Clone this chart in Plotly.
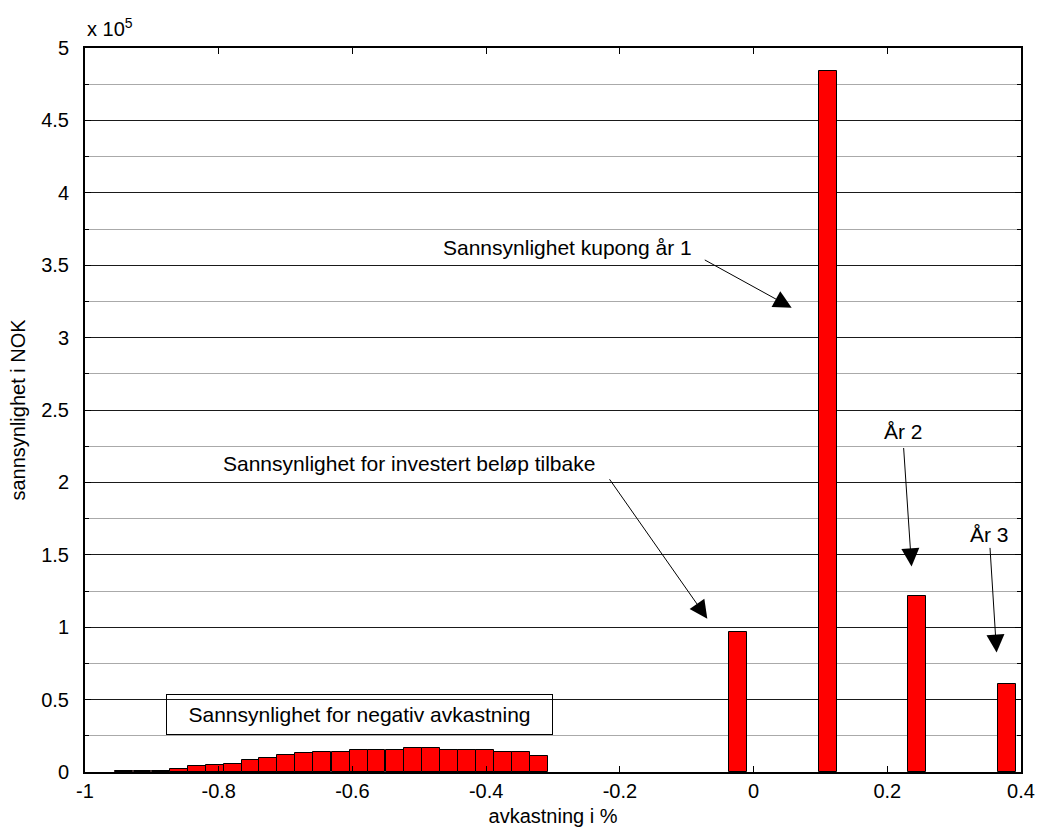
import plotly.graph_objects as go

# ---- data ----
bin_centers = [-0.941, -0.914, -0.887, -0.860, -0.833, -0.805, -0.778, -0.752,
               -0.726, -0.699, -0.672, -0.645, -0.617, -0.590, -0.564, -0.537,
               -0.510, -0.482, -0.455, -0.428, -0.402, -0.375, -0.348, -0.321,
               -0.024, 0.111, 0.244, 0.379]
counts = [900, 900, 900, 2300, 3900, 4600, 5800, 8100,
          9400, 11800, 12900, 14100, 14100, 15400, 15400, 15400,
          16600, 16600, 15400, 15400, 15400, 14100, 14100, 10800,
          96900, 484000, 121500, 60600]
bin_width = 0.0269

x_ticks = [-1, -0.8, -0.6, -0.4, -0.2, 0, 0.2, 0.4]
x_ticktext = ["-1", "-0.8", "-0.6", "-0.4", "-0.2", "0", "0.2", "0.4"]
y_ticks = [0, 50000, 100000, 150000, 200000, 250000, 300000, 350000, 400000, 450000, 500000]
y_ticktext = ["0", "0.5", "1", "1.5", "2", "2.5", "3", "3.5", "4", "4.5", "5"]

FONT = "Liberation Sans, Arial, Helvetica, sans-serif"

fig = go.Figure()
fig.add_trace(go.Bar(
    x=bin_centers, y=counts, width=bin_width,
    marker=dict(color="#FF0000", line=dict(color="black", width=1)),
    showlegend=False,
))

# text labels and arrows (text, text pos, arrow tail, arrow tip)
labels = [
    ("Sannsynlighet kupong år 1", (-0.2776, 362000), (-0.0752, 354200), (0.057, 320600)),
    ("Sannsynlighet for investert beløp tilbake", (-0.515, 212900), (-0.217, 203200), (-0.0692, 105900)),
    ("År 2", (0.2243, 235000), (0.2243, 224800), (0.2363, 142000)),
    ("År 3", (0.3535, 163900), (0.3535, 155800), (0.3635, 82500)),
]
for text, (tx, ty), (ax, ay), (hx, hy) in labels:
    fig.add_annotation(x=tx, y=ty, xref="x", yref="y", text=text, showarrow=False,
                       font=dict(family=FONT, size=21, color="black"))
    fig.add_annotation(x=hx, y=hy, ax=ax, ay=ay, xref="x", yref="y", axref="x", ayref="y",
                       text="", showarrow=True, arrowhead=2, arrowsize=3.6, arrowwidth=1,
                       arrowcolor="black")

fig.add_annotation(x=-0.589, y=39400, xref="x", yref="y",
                   text="Sannsynlighet for negativ avkastning", showarrow=False,
                   font=dict(family=FONT, size=21, color="black"),
                   bordercolor="black", borderwidth=1, borderpad=0,
                   width=385, height=39, bgcolor="rgba(0,0,0,0)")

fig.add_annotation(x=0, y=1.008, xref="paper", yref="paper", xanchor="left", yanchor="bottom",
                   text="x 10<sup>5</sup>", showarrow=False,
                   font=dict(family=FONT, size=20, color="black"))

fig.update_layout(
    width=1039, height=833,
    margin=dict(l=85, r=18, t=48, b=61, autoexpand=False),
    plot_bgcolor="white", paper_bgcolor="white",
    font=dict(family=FONT, size=20, color="black"),
    bargap=0,
    xaxis=dict(range=[-1, 0.4], tickvals=x_ticks, ticktext=x_ticktext,
               showgrid=False, zeroline=False, automargin=False, ticklabeloverflow="allow",
               showline=True, linecolor="black", linewidth=2, mirror="ticks",
               ticks="inside", ticklen=6, tickcolor="black", ticklabelstandoff=0,
               title=dict(text="avkastning i %", standoff=8,
                          font=dict(family=FONT, size=20))),
    yaxis=dict(range=[0, 500000], tickvals=y_ticks, ticktext=y_ticktext,
               showgrid=True, gridcolor="#1a1a1a", gridwidth=1, zeroline=False,
               automargin=False, ticklabeloverflow="allow",
               showline=True, linecolor="black", linewidth=2, mirror="ticks",
               ticks="inside", ticklen=6, tickcolor="black", ticklabelstandoff=10,
               minor=dict(dtick=25000, showgrid=True, gridcolor="#aaaaaa", gridwidth=1,
                          ticks="inside", ticklen=4, tickcolor="black"),
               title=dict(text="sannsynlighet i NOK", standoff=10,
                          font=dict(family=FONT, size=20))),
)

fig.write_html("out.html")
